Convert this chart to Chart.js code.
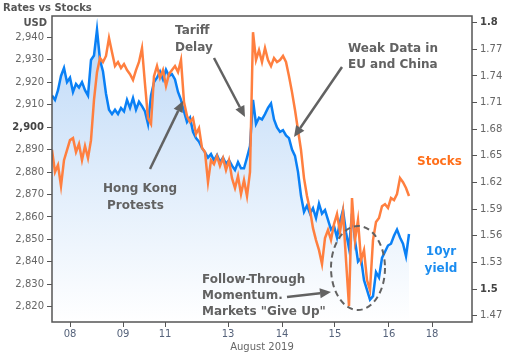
<!DOCTYPE html>
<html>
<head>
<meta charset="utf-8">
<script src="https://cdn.jsdelivr.net/npm/chart.js@4.4.1/dist/chart.umd.min.js"></script>
<style>
  html, body { margin: 0; padding: 0; background: #fff; }
  #wrap { width: 510px; height: 354px; }
</style>
</head>
<body>
<div id="wrap"><canvas id="myChart" width="510" height="354"></canvas></div>
<script>
// x axis: trading time in steps (weekend hours are left out)
const dayLabels = ["08", "09", "11", "13", "14", "15", "16", "18"];
const dayTickSteps = [6, 23.7, 37.7, 58.7, 76.7, 94.3, 112.3, 126.7];
const stepMax = 140;

// left axis (S&P futures, USD) and right axis (10yr yield)
const usdTicks = [2820, 2830, 2840, 2850, 2860, 2870, 2880, 2890, 2900, 2910, 2920, 2930, 2940];
const yieldTicks = [1.47, 1.5, 1.53, 1.56, 1.59, 1.62, 1.65, 1.68, 1.71, 1.74, 1.77, 1.8];
const yieldTickLabels = ["1.47", "1.5", "1.53", "1.56", "1.59", "1.62", "1.65", "1.68", "1.71", "1.74", "1.77", "1.8"];

// stocks, one value per step
const stocks = [
  2889.8, 2880.0, 2883.1, 2873.8, 2885.3, 2889.8, 2894.2, 2895.1, 2888.9, 2892.5,
  2885.3, 2891.6, 2886.2, 2894.2, 2912.1, 2924.5, 2930.8, 2929.0, 2931.7, 2939.7,
  2933.4, 2927.2, 2929.0, 2926.3, 2928.1, 2925.4, 2923.6, 2921.0, 2925.4, 2929.0,
  2935.2, 2919.2, 2904.0, 2901.4, 2922.7, 2927.2, 2921.9, 2925.4, 2918.3, 2923.6,
  2925.4, 2927.2, 2924.5, 2929.9, 2911.2, 2904.9, 2902.3, 2904.0, 2896.9, 2899.6,
  2890.7, 2888.9, 2875.5, 2885.3, 2883.5, 2887.1, 2882.7, 2886.2, 2880.9, 2885.3,
  2877.3, 2872.9, 2878.2, 2870.2, 2876.4, 2869.3, 2880.0, 2942.3, 2929.9, 2934.3,
  2929.0, 2935.2, 2929.9, 2927.2, 2930.8, 2929.0, 2929.9, 2931.7, 2929.0, 2922.7,
  2915.6, 2907.6, 2898.7, 2889.8, 2877.3, 2869.3, 2863.1, 2855.0, 2849.7, 2845.2,
  2839.0, 2850.6, 2854.2, 2849.7, 2856.8, 2861.3, 2853.3, 2862.2, 2840.8, 2820.3,
  2868.4, 2849.7, 2858.6, 2840.8, 2845.2, 2831.9, 2827.4, 2849.7, 2857.7, 2859.5,
  2864.8, 2865.7, 2864.0, 2868.4, 2867.5, 2870.2, 2877.3, 2875.5, 2872.9, 2869.3
];

// 10yr yield, one value per step
const yield10 = [
  1.718, 1.713, 1.724, 1.740, 1.749, 1.733, 1.738, 1.722, 1.731, 1.727,
  1.733, 1.724, 1.718, 1.758, 1.763, 1.792, 1.758, 1.745, 1.720, 1.702,
  1.697, 1.702, 1.697, 1.704, 1.700, 1.713, 1.704, 1.715, 1.702, 1.711,
  1.706, 1.700, 1.686, 1.718, 1.733, 1.738, 1.745, 1.736, 1.747, 1.740,
  1.742, 1.736, 1.722, 1.713, 1.700, 1.688, 1.693, 1.677, 1.670, 1.666,
  1.659, 1.654, 1.648, 1.652, 1.645, 1.651, 1.643, 1.648, 1.641, 1.645,
  1.639, 1.634, 1.643, 1.636, 1.636, 1.648, 1.661, 1.713, 1.686, 1.693,
  1.691, 1.697, 1.704, 1.709, 1.691, 1.682, 1.677, 1.679, 1.673, 1.670,
  1.657, 1.650, 1.632, 1.605, 1.587, 1.594, 1.585, 1.591, 1.580, 1.596,
  1.585, 1.589, 1.578, 1.567, 1.571, 1.558, 1.576, 1.589, 1.564, 1.546,
  1.585, 1.555, 1.531, 1.535, 1.510, 1.499, 1.488, 1.492, 1.519, 1.513,
  1.535, 1.542, 1.549, 1.551, 1.560, 1.567, 1.558, 1.551, 1.537, 1.562
];

const fontFamily = "'DejaVu Sans', Verdana, sans-serif";
const ctx = document.getElementById("myChart");

// light blue wash under the yield line
function blueFill(context) {
  const chart = context.chart;
  const area = chart.chartArea;
  if (!area) return "rgba(190,218,247,0.8)";
  const g = chart.ctx.createLinearGradient(0, area.top, 0, area.bottom);
  g.addColorStop(0, "#bcd8f7");
  g.addColorStop(1, "#ffffff");
  return g;
}

function drawArrow(c, x1, y1, x2, y2) {
  const a = Math.atan2(y2 - y1, x2 - x1);
  const head = 11, half = 5;
  const bx = x2 - head * Math.cos(a), by = y2 - head * Math.sin(a);
  c.beginPath();
  c.moveTo(x1, y1);
  c.lineTo(bx, by);
  c.stroke();
  c.beginPath();
  c.moveTo(x2, y2);
  c.lineTo(bx + half * Math.sin(a), by - half * Math.cos(a));
  c.lineTo(bx - half * Math.sin(a), by + half * Math.cos(a));
  c.closePath();
  c.fill();
}

// title, box and the notes on the chart
const notes = {
  id: "notes",
  afterDraw(chart) {
    const c = chart.ctx;
    const a = chart.chartArea;
    c.save();

    c.strokeStyle = "#555";
    c.lineWidth = 1.5;
    c.strokeRect(a.left, a.top, a.right - a.left, a.bottom - a.top);

    c.fillStyle = "#555";
    c.textBaseline = "middle";
    c.textAlign = "left";
    c.font = "bold 10px " + fontFamily;
    c.fillText("Rates vs Stocks", 3, 8);
    c.textAlign = "right";
    c.fillText("USD", 47, 23);

    c.fillStyle = "#626262";
    c.textAlign = "left";
    c.font = "bold 12px " + fontFamily;
    c.fillText("Tariff", 175, 31);
    c.fillText("Delay", 175, 48);
    c.fillText("Weak Data in", 348, 49);
    c.fillText("EU and China", 348, 65);
    c.fillText("Hong Kong", 103, 189);
    c.fillText("Protests", 107, 206);
    c.fillText("Follow-Through", 202, 280);
    c.fillText("Momentum.", 202, 296);
    c.fillText("Markets \"Give Up\"", 202, 312);

    c.fillStyle = "#ff6f1a";
    c.fillText("Stocks", 417, 162);
    c.fillStyle = "#1a8cf0";
    c.textAlign = "center";
    c.fillText("10yr", 441, 252);
    c.fillText("yield", 441, 269);

    c.strokeStyle = "#626262";
    c.fillStyle = "#626262";
    c.lineWidth = 2.5;
    drawArrow(c, 150, 169, 183, 101);
    drawArrow(c, 214, 58, 245, 117);
    drawArrow(c, 342, 67, 294, 137);
    drawArrow(c, 287, 297, 331, 292);

    c.lineWidth = 2;
    c.setLineDash([6, 4]);
    c.beginPath();
    c.ellipse(358, 268, 27, 42, 0, 0, Math.PI * 2);
    c.stroke();
    c.restore();
  }
};

new Chart(ctx, {
  type: "line",
  data: {
    datasets: [
      {
        label: "Stocks",
        data: stocks.map((v, i) => ({ x: i, y: v })),
        yAxisID: "y",
        borderColor: "#ff7f3f",
        borderWidth: 2.5,
        pointRadius: 0,
        fill: false,
        tension: 0,
      },
      {
        label: "10yr yield",
        data: yield10.map((v, i) => ({ x: i, y: v })),
        yAxisID: "y2",
        borderColor: "#0a80f5",
        borderWidth: 2.5,
        pointRadius: 0,
        fill: "start",
        backgroundColor: blueFill,
        tension: 0,
      },
    ],
  },
  options: {
    responsive: false,
    animation: false,
    devicePixelRatio: 1,
    layout: { padding: { top: 16, left: 0, right: 0, bottom: 0 } },
    plugins: {
      legend: { display: false },
      tooltip: { enabled: false },
    },
    scales: {
      x: {
        type: "linear",
        position: "bottom",
        min: 0,
        max: stepMax,
        afterBuildTicks: (s) => { s.ticks = dayTickSteps.map((v) => ({ value: v })); },
        afterFit: (s) => { s.height = 32; },
        ticks: {
          autoSkip: false,
          maxRotation: 0,
          padding: 1,
          color: "#56637b",
          font: { family: fontFamily, size: 10 },
          callback: (v, i) => dayLabels[i],
        },
        grid: { drawOnChartArea: false, tickLength: 5, color: "#555", lineWidth: 1 },
        border: { display: false },
        title: {
          display: true,
          text: "August 2019",
          color: "#666",
          font: { family: fontFamily, size: 10 },
          padding: { top: 0, bottom: 1 },
        },
      },
      y: {
        position: "left",
        min: 2813.2,
        max: 2949.5,
        afterBuildTicks: (s) => { s.ticks = usdTicks.map((v) => ({ value: v })); },
        afterFit: (s) => { s.width = 52; },
        ticks: {
          padding: 3,
          color: (c) => (c.tick && c.tick.value === 2900 ? "#444" : "#666"),
          font: (c) => ({ family: fontFamily, size: 10, weight: c.tick && c.tick.value === 2900 ? "bold" : "normal" }),
          callback: (v) => v.toLocaleString("en-US"),
        },
        grid: { drawOnChartArea: false, tickLength: 5, color: "#555" },
        border: { display: false },
      },
      y2: {
        position: "right",
        min: 1.4629,
        max: 1.8075,
        afterBuildTicks: (s) => { s.ticks = yieldTicks.map((v) => ({ value: v })); },
        afterFit: (s) => { s.width = 38; },
        ticks: {
          padding: 3,
          color: (c) => (c.index === 1 || c.index === 11 ? "#444" : "#666"),
          font: (c) => ({ family: fontFamily, size: 10, weight: c.index === 1 || c.index === 11 ? "bold" : "normal" }),
          callback: (v, i) => yieldTickLabels[i],
        },
        grid: { drawOnChartArea: false, tickLength: 5, color: "#555" },
        border: { display: false },
      },
    },
  },
  plugins: [notes],
});
</script>
</body>
</html>
